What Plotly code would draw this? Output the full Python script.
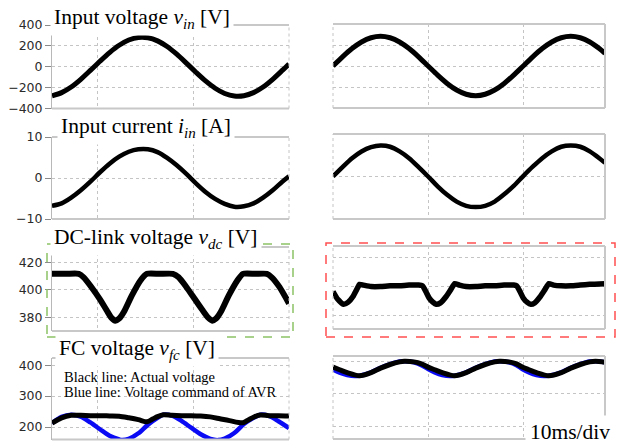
import plotly.graph_objects as go

# ---------------- data ----------------
# time axes in ms (left column starts at its own origin, 10 ms/div)
t_vin_l = [0, 1, 2, 3, 4, 5, 6, 7, 8, 9, 10, 11, 12, 13, 14, 15, 16, 17, 18, 19, 20, 21, 22, 23, 24, 24.7]
vin_l = [-278, -248, -194, -120, -35, 53, 136, 206, 256, 281, 278, 248, 194, 120, 35, -53, -136, -206, -256,
         -281, -278, -248, -194, -120, -35, 27]

t_vin_r = [0, 1, 2, 3, 4, 5, 6, 7, 8, 9, 10, 11, 12, 13, 14, 15, 16, 17, 18, 19, 20, 21, 22, 23, 24, 25, 26,
           27, 28, 28.6]
vin_r = [0, 87, 166, 229, 269, 283, 269, 229, 166, 87, 0, -87, -166, -229, -269, -283, -269, -229, -166, -87,
         0, 87, 166, 229, 269, 283, 269, 229, 166, 120]

t_iin_l = t_vin_l
iin_l = [-6.8, -6.2, -4.8, -3.0, -0.9, 1.4, 3.5, 5.2, 6.4, 7.0, 7.0, 6.3, 4.9, 3.1, 1.0, -1.3, -3.4, -5.1, -6.3,
         -7.0, -6.9, -6.2, -4.8, -3.0, -0.9, 0.4]

t_iin_r = t_vin_r
iin_r = [0, 2.2, 4.3, 5.9, 6.9, 7.3, 7.0, 5.9, 4.3, 2.2, 0, -2.3, -4.3, -5.9, -6.9, -7.2, -6.9, -5.9, -4.2, -2.2,
         0.1, 2.3, 4.3, 5.9, 7.0, 7.3, 7.0, 5.9, 4.3, 3.2]

t_vdc_l = [0, 1.5, 2.8, 3.3, 4.1, 5.0, 5.7, 6.2, 6.6, 7.0, 7.5, 8.3, 9.2, 9.9, 11.2, 12.6, 13.2, 14.0, 14.9,
           15.7, 16.3, 16.7, 17.1, 17.6, 18.4, 19.3, 19.9, 21.2, 22.4, 22.9, 23.7, 24.7]
vdc_l = [411.5, 411.5, 411.5, 409, 402, 393, 385, 379.5, 377.5, 379, 384, 395.5, 406.5, 411.5, 411.5, 411.5,
         409, 402, 393, 385, 379.5, 377.5, 379, 384, 395.5, 406.5, 411.5, 411.5, 411.5, 409, 402, 390]

t_vdc_r = [0, 0.5, 1.1, 1.6, 2.1, 2.5, 2.8, 3.2, 4, 5, 6, 7, 8, 9, 9.4, 9.8, 10.1, 10.5, 10.85, 11.3, 11.9,
           12.4, 12.8, 13.3, 14, 15, 16, 17, 18, 19, 19.3, 19.7, 20.0, 20.4, 20.8, 21.2, 21.8, 22.3, 22.7, 23.2,
           24, 25, 26, 27, 28.6]
vdc_r = [396.5, 391, 387.5, 389, 393, 398, 401.5, 401, 400, 400, 400.5, 400.5, 401, 401, 400.5, 396, 392, 389,
         387.5, 388.5, 393, 398, 402, 401, 400, 400, 400.5, 400.5, 401, 401, 400.5, 396, 392, 389, 387.5, 388.5,
         393, 398, 402, 401, 400.5, 400.5, 401, 401.5, 402]

t_vfc_l = [0, 1, 2, 3, 4, 5, 6, 7, 8, 9, 9.9, 10.5, 11, 11.6, 12.5, 13.5, 14.5, 15.5, 16.5, 17.5, 18.5, 19.9,
           20.5, 21, 21.7, 22.6, 23.6, 24.7]
vfc_l = [213, 230, 238, 238, 237, 237, 236, 235, 230, 224, 217, 226, 234, 240, 238, 237, 237, 236, 233, 227,
         221, 214, 224, 232, 239, 237, 237, 236]

t_avr_l = [0, 1, 2, 3, 4, 5, 6, 7, 7.3, 8, 9, 10, 11, 11.6, 12.5, 13.5, 14.5, 15.5, 16.5, 17.3, 18, 19, 20, 21,
           21.7, 22.6, 23.6, 24.7]
avr_l = [213, 233, 240, 234, 215, 193, 172, 160, 158, 162, 180, 208, 230, 240, 237, 220, 198, 177, 162, 158,
         163, 181, 210, 230, 240, 236, 219, 197]

t_vfc_r = [0, 0.7, 1.5, 2.8, 4, 5, 6, 7, 7.5, 8.5, 9.3, 10, 10.7, 11.5, 12.8, 14, 15, 16, 17, 17.5, 18.5, 19.3,
           19.9, 20.6, 21.4, 22.7, 24, 25, 26, 27, 27.6, 28.6]
vfc_r = [382, 374, 365, 355.5, 365, 379, 390, 398, 400, 398, 392, 382, 374, 365, 355.5, 365, 379, 390, 398,
         400, 398, 392, 382, 374, 365, 355.5, 365, 379, 390, 398, 400, 397]

t_avr_r = [0, 0.7, 1.5, 2.3, 2.8, 4, 5, 6, 7, 7.5, 8.5, 9.3, 10, 10.7, 11.5, 12.3, 12.8, 14, 15, 16, 17, 17.5,
           18.5, 19.3, 19.9, 20.6, 21.4, 22.2, 22.7, 24, 25, 26, 27, 27.6, 28.6]
avr_r = [375, 365, 358, 354.5, 355.5, 366, 380, 391, 399, 400, 397, 388, 376, 366, 358, 354.5, 355.5, 366, 380,
         391, 399, 400, 397, 388, 376, 366, 358, 354.5, 355.5, 366, 380, 391, 399, 400, 397]

# tick labels (left column only)
ticks_vin = [-400, -200, 0, 200, 400]
ticks_iin = [-10, 0, 10]
ticks_vdc = [380, 400, 420]
ticks_vfc = [200, 300, 400]

titles = ["Input voltage <i>v<sub>in</sub></i> [V]",
          "Input current <i>i<sub>in</sub></i> [A]",
          "DC-link voltage <i>v<sub>dc</sub></i> [V]",
          "FC voltage <i>v<sub>fc</sub></i> [V]"]
note_lines = ["Black line: Actual voltage", "Blue line: Voltage command of AVR"]
scale_label = "10ms/div"

# ---------------- layout geometry (pixels) ----------------
W, H = 623, 445
def fx(p): return p / W
def fy(p): return 1 - p / H

left_x = (52, 289)
right_x = (333, 605)
panels = [
    (left_x, (25, 108.5), [-400, 400], [0, 24.7], 4.7, ticks_vin, True),
    (left_x, (137, 219), [-10, 10], [0, 24.7], 4.7, ticks_iin, True),
    (left_x, (247, 331), [370, 431], [0, 24.7], 4.7, ticks_vdc, True),
    (left_x, (358, 439.5), [160, 423], [0, 24.7], 4.7, ticks_vfc, True),
    (right_x, (24, 108), [-400, 400], [0, 28.6], 0, ticks_vin, False),
    (right_x, (134, 219), [-10, 10], [0, 28.6], 0, ticks_iin, False),
    (right_x, (246, 329), [370.2, 428.4], [0, 28.6], 0, ticks_vdc, False),
    (right_x, (356, 439), [162, 416], [0, 28.6], 0, ticks_vfc, False),
]

fig = go.Figure()
GRID = "#c4c4c4"
FRAME = "#c8c8c8"
layout = dict(template="none", width=W, height=H, margin=dict(l=0, r=0, t=0, b=0, autoexpand=False),
              paper_bgcolor="white", plot_bgcolor="white", showlegend=False)
shapes = []
for i, (xp, yp, yr, xr, g0, tv, labels) in enumerate(panels):
    n = "" if i == 0 else str(i + 1)
    layout["xaxis" + n] = dict(domain=[fx(xp[0]), fx(xp[1])], range=xr, anchor="y" + n,
                               tickmode="linear", tick0=g0, dtick=10, showticklabels=False, ticks="",
                               showgrid=True, gridcolor=GRID, griddash="dot", gridwidth=1,
                               zeroline=False, showline=False, fixedrange=True, automargin=False)
    layout["yaxis" + n] = dict(domain=[fy(yp[1]), fy(yp[0])], range=yr, anchor="x" + n,
                               tickmode="array", tickvals=tv, showticklabels=labels,
                               ticks="outside" if labels else "", ticklen=6, tickcolor="#8a8a8a",
                               tickfont=dict(family="DejaVu Sans", size=12.5, color="#2a2a2a"),
                               showgrid=True, gridcolor=GRID, griddash="dot", gridwidth=1,
                               zeroline=False, showline=labels, linecolor="#b8b8b8", linewidth=1,
                               fixedrange=True, automargin=False)
    xd = ("x" + n) + " domain"
    yd = ("y" + n) + " domain"
    for yy in (0, 1):
        shapes.append(dict(type="line", xref=xd, yref=yd, x0=0, x1=1, y0=yy, y1=yy,
                           line=dict(color=FRAME, width=2)))
    if labels:
        shapes.append(dict(type="line", xref=xd, yref=yd, x0=1, x1=1, y0=0, y1=1,
                           line=dict(color=GRID, width=1, dash="dot")))
    else:
        shapes.append(dict(type="line", xref=xd, yref=yd, x0=0, x1=0, y0=0, y1=1,
                           line=dict(color=GRID, width=1, dash="dot")))
        shapes.append(dict(type="line", xref=xd, yref=yd, x0=1, x1=1, y0=0, y1=1,
                           line=dict(color=FRAME, width=2)))

shapes.append(dict(type="rect", xref="paper", yref="paper", x0=fx(47), x1=fx(293), y0=fy(337), y1=fy(244),
                   line=dict(color="#8cc466", width=1.5, dash="dash")))
shapes.append(dict(type="rect", xref="paper", yref="paper", x0=fx(326), x1=fx(615), y0=fy(337), y1=fy(243),
                   line=dict(color="#ff5050", width=1.5, dash="dash")))
layout["shapes"] = shapes

def add(t, v, i, color="black", width=5, smooth=0.8):
    n = "" if i == 0 else str(i + 1)
    fig.add_trace(go.Scatter(x=t, y=v, mode="lines", xaxis="x" + n, yaxis="y" + n,
                             line=dict(color=color, width=width, shape="spline", smoothing=smooth),
                             hoverinfo="skip"))

add(t_vin_l, vin_l, 0)
add(t_iin_l, iin_l, 1, width=4.5)
add(t_vdc_l, vdc_l, 2, width=6, smooth=0.6)
add(t_avr_l, avr_l, 3, color="#0a0af5", width=4.5)
add(t_vfc_l, vfc_l, 3, width=5)
add(t_vin_r, vin_r, 4)
add(t_iin_r, iin_r, 5, width=4.5)
add(t_vdc_r, vdc_r, 6, width=5.5, smooth=0.5)
add(t_avr_r, avr_r, 7, color="#0a0af5", width=4.5)
add(t_vfc_r, vfc_r, 7, width=5)

SERIF = "Liberation Serif"
ann = []
title_pos = [(53, 18), (60, 127), (53, 238), (58, 349)]
for txt, (xl, yc) in zip(titles, title_pos):
    ann.append(dict(text=txt, xref="paper", yref="paper", x=fx(xl - 3), y=fy(yc), xanchor="left",
                    yanchor="middle", showarrow=False, bgcolor="white", borderpad=3,
                    font=dict(family=SERIF, size=21.5, color="black")))
for txt, yc in zip(note_lines, (377, 392)):
    ann.append(dict(text=txt, xref="paper", yref="paper", x=fx(62), y=fy(yc), xanchor="left",
                    yanchor="middle", showarrow=False,
                    font=dict(family=SERIF, size=14.5, color="black")))
ann.append(dict(text=scale_label, xref="paper", yref="paper", x=fx(570), y=fy(432), xanchor="center",
                yanchor="middle", showarrow=False, bgcolor="white", borderpad=4,
                font=dict(family=SERIF, size=21.5, color="black")))
layout["annotations"] = ann
fig.update_layout(**layout)
fig.write_html("out.html", config={"displayModeBar": False},
               post_script="document.body.style.margin='0';")
